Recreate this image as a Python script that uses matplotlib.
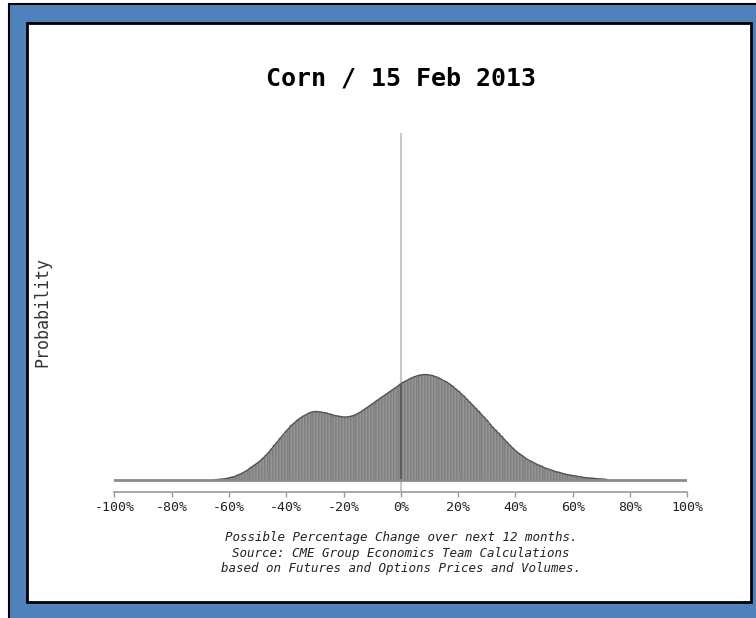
import matplotlib.pyplot as plt
import matplotlib.patches as mpatches
import numpy as np

# 数据：可能的百分比变化（每 1%）与对应的概率高度（任意单位）
pct = np.arange(-65, 73)
prob = [0.3, 0.5, 0.7, 1, 1.5, 2, 2.7, 3.5, 4.7, 6,
        7.5, 9, 11, 13, 15, 17, 19.5, 22, 25, 28,
        31.5, 35, 38.5, 42, 45.5, 49, 52, 55, 57.5, 60,
        62, 64, 65.5, 67, 68, 68.5, 68.5, 68, 67.5, 67,
        66, 65.5, 64.5, 64, 63.5, 63, 63, 63.5, 64, 65,
        66.5, 68, 70, 72, 74, 76, 78, 80, 82, 84,
        86, 88, 90, 92, 94, 96, 98, 99.5, 101, 102.5,
        103.5, 104.5, 105, 105.5, 105.5, 105, 104.5, 103.5, 102.5, 101,
        99.5, 98, 96, 94, 91.5, 89, 86.5, 84, 81, 78,
        75, 72, 69, 66, 63, 60, 56.5, 53, 50, 47,
        44, 41, 38, 35, 32, 29.5, 27, 25, 23, 21,
        19.5, 18, 16.5, 15, 13.7, 12.5, 11.5, 10.5, 9.5, 8.5,
        7.7, 7, 6.2, 5.5, 5, 4.5, 4, 3.5, 3, 2.5,
        2.2, 2, 1.7, 1.5, 1.2, 1, 0.7, 0.5]

xticks = [-100, -80, -60, -40, -20, 0, 20, 40, 60, 80, 100]
xticklabels = [f"{v}%" for v in xticks]

title = "Corn / 15 Feb 2013"
caption = ("Possible Percentage Change over next 12 months.\n"
           "Source: CME Group Economics Team Calculations\n"
           "based on Futures and Options Prices and Volumes.")

W, H = 756, 618
fig = plt.figure(figsize=(W / 100, H / 100), dpi=100, facecolor="white")

# 蓝色外框 + 白色内框
fig.patches.append(mpatches.Rectangle((9 / W, -0.01), 1.0, 1 - 4 / H + 0.01,
                                      transform=fig.transFigure, facecolor="#4f81bd",
                                      edgecolor="black", linewidth=1.5, zorder=0))
fig.patches.append(mpatches.Rectangle((27 / W, 1 - 602 / H), (751 - 27) / W, (602 - 23) / H,
                                      transform=fig.transFigure, facecolor="white",
                                      edgecolor="black", linewidth=2, zorder=1))

ax = fig.add_axes([114.3 / W, 1 - 492 / H, 573 / W, (492 - 133) / H])
ax.set_zorder(5)
ax.set_facecolor("none")

# 分布柱
ax.bar(pct, prob, width=1.0, color="#959595", edgecolor="#666666", linewidth=0.35, zorder=2)
ax.plot(pct, prob, color="#505050", linewidth=0.9, zorder=3)
ax.plot([-100, 100], [0, 0], color="#8a8a8a", linewidth=2, zorder=3)
ax.axvline(0, color="#c8c8c8", linewidth=1.5, zorder=1)
# 零线在柱内显得更深
ax.vlines(0, 0, prob[list(pct).index(0)], color="#555555", linewidth=1.2, zorder=2.5)

ax.set_xlim(-100, 100)
ax.set_ylim(-12, 347)
ax.set_yticks([])
for s in ["top", "right", "left"]:
    ax.spines[s].set_visible(False)
ax.spines["bottom"].set_color("#999999")
ax.spines["bottom"].set_linewidth(1.2)
ax.set_xticks(xticks)
ax.set_xticklabels(xticklabels, family="DejaVu Sans Mono", fontsize=9.5, color="#222222")
ax.tick_params(axis="x", direction="out", length=3.5, width=1, color="#999999", pad=3)

fig.text(0.5 * (114.3 + 687.3) / W, 1 - 79 / H, title, ha="center", va="center",
         family="DejaVu Sans Mono", fontweight="bold", fontsize=18)
fig.text(42 / W, 1 - 312 / H, "Probability", rotation=90, ha="center", va="center",
         family="DejaVu Sans Mono", fontsize=12, color="#333333")
fig.text(401 / W, 1 - 553 / H, caption, ha="center", va="center", linespacing=1.25,
         family="DejaVu Sans Mono", style="italic", fontsize=9, color="#222222")

fig.savefig("out.png", dpi=100)
